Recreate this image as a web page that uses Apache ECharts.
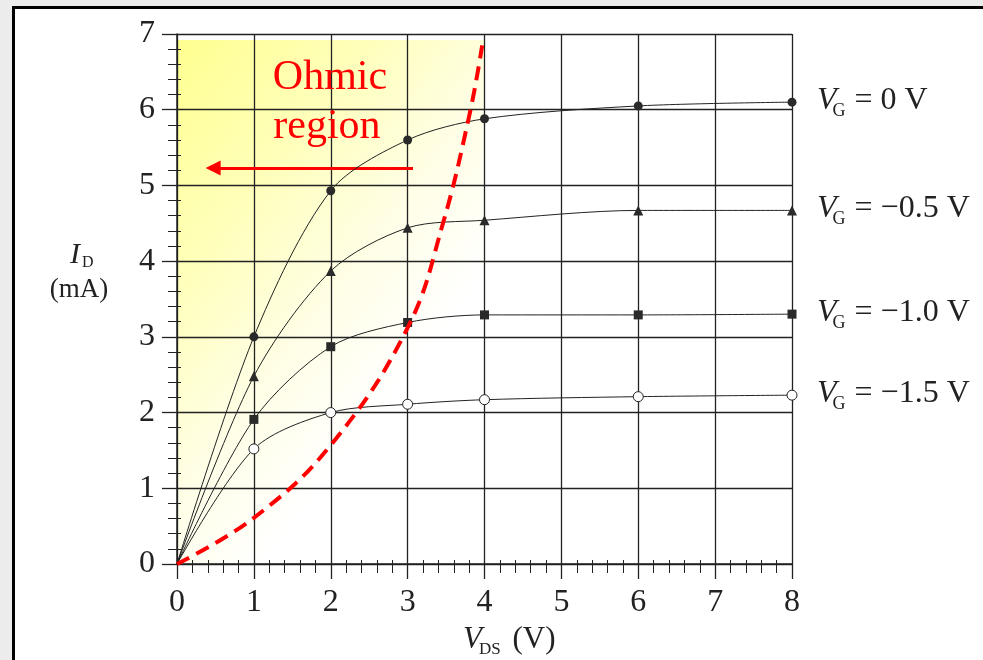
<!DOCTYPE html>
<html><head><meta charset="utf-8">
<script src="https://cdn.jsdelivr.net/npm/echarts@6/dist/echarts.min.js"></script>
<style>
html,body{margin:0;padding:0;background:#ececec;overflow:hidden;}
#frame{position:absolute;left:12px;top:6px;width:1000px;height:700px;background:#fff;border-left:3px solid #000;border-top:3px solid #000;}
#c{position:absolute;left:0;top:0;width:983px;height:660px;}
</style>
</head><body><div id="frame"></div><div id="c"></div>
<script>
// ---- data ----
const vds = [0, 1, 2, 3, 4, 6, 8];
const idVG0   = [0, 3.00, 4.93, 5.60, 5.88, 6.05, 6.10];
const idVGm05 = [0, 2.48, 3.87, 4.44, 4.54, 4.67, 4.67];
const idVGm10 = [0, 1.91, 2.87, 3.19, 3.29, 3.29, 3.30];
const idVGm15 = [0, 1.52, 2.00, 2.11, 2.17, 2.21, 2.23];
const pinchVds = [0, 1, 2, 3, 3.46, 3.81, 3.97];
const pinchId  = [0, 0.61, 1.57, 3.12, 4.50, 5.96, 6.85];
const xTicks = [0, 1, 2, 3, 4, 5, 6, 7, 8];
const yTicks = [0, 1, 2, 3, 4, 5, 6, 7];
const gateLabels = ['0 V', '\u22120.5 V', '\u22121.0 V', '\u22121.5 V'];
const ohmicLines = ['Ohmic', 'region'];

const FONT = '"Liberation Serif", "Times New Roman", serif';
const INK = '#222';

const chart = echarts.init(document.getElementById('c'), null, {renderer: 'canvas'});

function curve(ids, symbol, size, filled) {
  return {
    type: 'line', z: 5, smooth: 0.3,
    data: vds.map((x, i) => i === 0 ? {value: [x, ids[i]], symbol: 'none'} : [x, ids[i]]),
    symbol: symbol, symbolSize: size, showSymbol: true,
    lineStyle: {color: INK, width: 1},
    itemStyle: filled ? {color: '#2a2a2a'} : {color: '#fff', borderColor: INK, borderWidth: 1},
    emphasis: {disabled: true}, animation: false
  };
}

const axisBase = {
  type: 'value', interval: 1, z: 3,
  axisLine: {show: true, lineStyle: {color: INK, width: 1.5}},
  splitLine: {show: true, lineStyle: {color: INK, width: 1.3}},
  axisTick: {show: true, inside: false, length: 15, lineStyle: {color: INK, width: 1.3}},
  minorTick: {show: true, splitNumber: 5, length: 9, lineStyle: {color: INK, width: 1}},
  axisLabel: {color: INK, fontFamily: FONT, fontSize: 32}
};
const minorAxis = {
  type: 'value', interval: 0.2, z: 3,
  axisLine: {show: false}, splitLine: {show: false},
  axisTick: {show: true, inside: true, length: 4, lineStyle: {color: INK, width: 1}},
  axisLabel: {show: false}
};

const option = {
  backgroundColor: 'transparent',
  animation: false,
  grid: {left: 177, top: 34, right: 191, bottom: 96, containLabel: false},
  xAxis: [
    Object.assign({}, axisBase, {min: xTicks[0], max: xTicks[xTicks.length - 1], position: 'bottom',
      axisLabel: Object.assign({}, axisBase.axisLabel, {margin: 23})}),
    Object.assign({}, minorAxis, {min: xTicks[0], max: xTicks[xTicks.length - 1], position: 'bottom'})
  ],
  yAxis: [
    Object.assign({}, axisBase, {min: yTicks[0], max: yTicks[yTicks.length - 1], position: 'left',
      axisLabel: Object.assign({}, axisBase.axisLabel, {margin: 22})}),
    Object.assign({}, minorAxis, {min: yTicks[0], max: yTicks[yTicks.length - 1], position: 'left'})
  ],
  series: [
    { // ohmic region shading
      type: 'line', z: 1, data: [], silent: true,
      markArea: {
        silent: true,
        itemStyle: {color: new echarts.graphic.LinearGradient(0, 0, 1, 0.45, [
          {offset: 0, color: '#ffff90'},
          {offset: 0.4, color: '#ffffbc'},
          {offset: 0.72, color: '#fffee6'},
          {offset: 1, color: '#ffffff'}
        ])},
        data: [[{xAxis: 0, yAxis: 0}, {xAxis: 4, yAxis: 6.92}]]
      }
    },
    curve(idVG0, 'circle', 9, true),
    curve(idVGm05, 'triangle', 10, true),
    curve(idVGm10, 'rect', 9, true),
    curve(idVGm15, 'circle', 10, false),
    { // pinch-off locus
      type: 'line', z: 6, smooth: 0.4, showSymbol: false, symbol: 'none',
      data: pinchVds.map((x, i) => [x, pinchId[i]]),
      lineStyle: {color: '#ff0000', width: 4, type: [14, 8]},
      markLine: {
        silent: true, symbol: ['none', 'triangle'], symbolSize: [15, 15],
        label: {show: false},
        lineStyle: {color: '#ff0000', width: 3, type: 'solid'},
        data: [[{coord: [3.07, 5.23]}, {coord: [0.47, 5.23]}]]
      }
    }
  ]
};
chart.setOption(option);

// ---- text annotations (positioned through the chart's scales) ----
const mctx = document.createElement('canvas').getContext('2d');
function fontStr(size, italic) { return (italic ? 'italic ' : '') + size + 'px ' + FONT; }
function measure(t, size, italic) { mctx.font = fontStr(size, italic); return mctx.measureText(t).width; }
function runText(x, y, segs) {
  const out = []; let cx = x;
  segs.forEach(s => {
    cx += (s.dx || 0);
    out.push({type: 'text', z: 50, silent: true, x: cx, y: y + (s.dy || 0),
      style: {text: s.t, font: fontStr(s.size, s.italic), fill: s.color || INK, align: 'left', verticalAlign: 'middle'}});
    cx += measure(s.t, s.size, s.italic);
  });
  return out;
}

const g = [];
const ends = [idVG0, idVGm05, idVGm10, idVGm15];
ends.forEach((ids, k) => {
  const p = chart.convertToPixel({gridIndex: 0}, [vds[vds.length - 1], ids[ids.length - 1]]);
  g.push(...runText(p[0] + 25, p[1] - 2, [
    {t: 'V', size: 32, italic: true},
    {t: 'G', size: 18, dx: -4, dy: 11},
    {t: ' = ' + gateLabels[k], size: 32, dx: 1}
  ]));
});
// y-axis title
g.push(...runText(70, 255, [
  {t: 'I', size: 30, italic: true},
  {t: 'D', size: 16, dx: 2, dy: 8}
]));
g.push({type: 'text', z: 50, silent: true, x: 79, y: 290,
  style: {text: '(mA)', font: fontStr(27, false), fill: INK, align: 'center', verticalAlign: 'middle'}});
// x-axis title
g.push(...runText(463, 640, [
  {t: 'V', size: 31, italic: true},
  {t: 'DS', size: 17, dx: -3, dy: 10},
  {t: ' (V)', size: 31, dx: 4}
]));
// Ohmic region label
const pO = chart.convertToPixel({gridIndex: 0}, [1.99, 6.42]);
g.push({type: 'text', z: 50, silent: true, x: pO[0], y: pO[1],
  style: {text: ohmicLines[0], font: fontStr(42, false), fill: '#ff0000', align: 'center', verticalAlign: 'middle'}});
const pR = chart.convertToPixel({gridIndex: 0}, [1.95, 5.77]);
g.push({type: 'text', z: 50, silent: true, x: pR[0], y: pR[1],
  style: {text: ohmicLines[1], font: fontStr(42, false), fill: '#ff0000', align: 'center', verticalAlign: 'middle'}});

chart.setOption({graphic: {elements: g}});
</script>
</body></html>
